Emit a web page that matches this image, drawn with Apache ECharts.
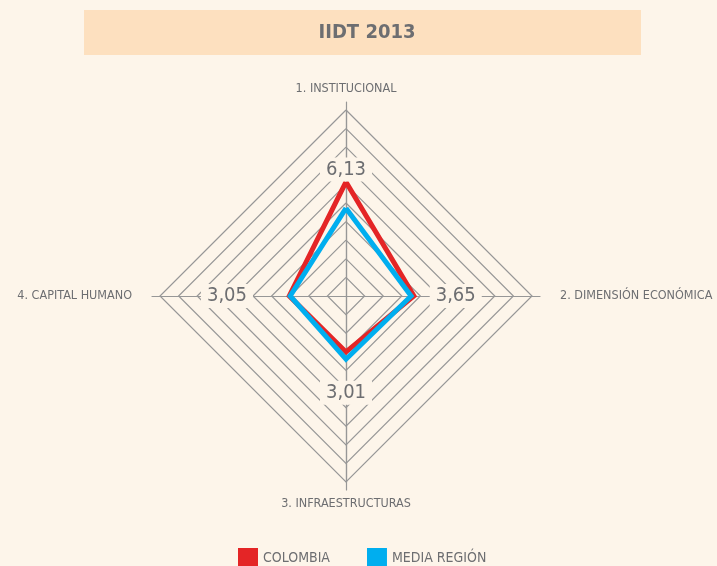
<!DOCTYPE html>
<html>
<head>
<meta charset="utf-8">
<script src="https://cdn.jsdelivr.net/npm/echarts@6/dist/echarts.min.js"></script>
<style>
  html, body { margin: 0; padding: 0; background: #fdf5ea; }
  #chart { width: 717px; height: 566px; }
</style>
</head>
<body>
<div id="chart"></div>
<script>
// ejes del radar (en el orden del grafico, sentido horario desde arriba)
const indicators = ['1. INSTITUCIONAL', '2. DIMENSIÓN ECONÓMICA', '3. INFRAESTRUCTURAS', '4. CAPITAL HUMANO'];
const colombia = [6.13, 3.65, 3.01, 3.05];
const mediaRegion = [4.72, 3.5, 3.4, 3.0];
const seriesNames = ['COLOMBIA', 'MEDIA REGIÓN'];
const valueLabels = ['6,13', '3,65', '3,01', '3,05'];

const font = '"Liberation Sans Narrow", "DejaVu Sans Condensed", sans-serif';
const textGray = '#6d6e71';
const center = [346, 296];
const radius = 186;

// echarts dibuja el radar en sentido antihorario -> reordenar
const order = [0, 3, 2, 1];
const ccw = (arr) => order.map((i) => arr[i]);

const chart = echarts.init(document.getElementById('chart'));

// posiciones de las etiquetas (en unidades del eje, fuera del poligono)
const labelPos = [6.8, 5.9, 5.2, 6.4];
const dirs = [[0, -1], [1, 0], [0, 1], [-1, 0]];
const labelGraphics = valueLabels.map((t, i) => ({
  type: 'text',
  z: 10,
  x: center[0] + dirs[i][0] * labelPos[i] * radius / 10,
  y: center[1] + dirs[i][1] * labelPos[i] * radius / 10,
  style: {
    text: t,
    font: '20px ' + font,
    fill: textGray,
    align: 'center',
    verticalAlign: 'middle',
    backgroundColor: '#fdf5ea',
    padding: [2, 6]
  }
}));

const option = {
  backgroundColor: '#fdf5ea',
  textStyle: { fontFamily: font },
  title: {
    text: 'IIDT 2013',
    left: 362,
    top: 18,
    textAlign: 'center',
    textStyle: { color: textGray, fontSize: 20, fontWeight: 'bold', fontFamily: font }
  },
  graphic: [
    {
      type: 'rect',
      z: -1,
      shape: { x: 84, y: 10, width: 557, height: 45 },
      style: { fill: '#fde0bf' }
    }
  ].concat(labelGraphics),
  legend: {
    data: seriesNames,
    left: 233,
    top: 543,
    itemWidth: 20,
    itemHeight: 20,
    itemGap: 37,
    icon: 'rect',
    textStyle: { color: textGray, fontSize: 14, fontFamily: font }
  },
  radar: [
    {
      center: center,
      radius: radius,
      shape: 'polygon',
      splitNumber: 10,
      startAngle: 90,
      indicator: ccw(indicators).map((n) => ({ name: n, min: 0, max: 10 })),
      nameGap: 15,
      axisName: { color: textGray, fontSize: 12.5, fontFamily: font, padding: [0, 13] },
      axisLine: { lineStyle: { color: '#979797', width: 1.2 } },
      splitLine: { lineStyle: { color: '#979797', width: 1.2 } },
      splitArea: { show: false }
    },
    {
      // solo para prolongar un poco los ejes
      center: center,
      radius: radius + 8,
      shape: 'polygon',
      splitNumber: 1,
      indicator: indicators.map(() => ({ name: '', min: 0, max: 10 })),
      axisName: { show: false },
      axisLine: { lineStyle: { color: '#979797', width: 1.2 } },
      splitLine: { show: false },
      splitArea: { show: false }
    }
  ],
  series: [
    {
      type: 'radar',
      radarIndex: 0,
      symbol: 'none',
      z: 3,
      data: [
        {
          name: seriesNames[0],
          value: ccw(colombia),
          lineStyle: { color: '#e42526', width: 5, join: 'miter' },
          itemStyle: { color: '#e42526' }
        }
      ]
    },
    {
      type: 'radar',
      radarIndex: 0,
      symbol: 'none',
      z: 4,
      data: [
        {
          name: seriesNames[1],
          value: ccw(mediaRegion),
          lineStyle: { color: '#00aeef', width: 5, join: 'miter' },
          itemStyle: { color: '#00aeef' }
        }
      ]
    }
  ]
};
chart.setOption(option);
</script>
</body>
</html>
